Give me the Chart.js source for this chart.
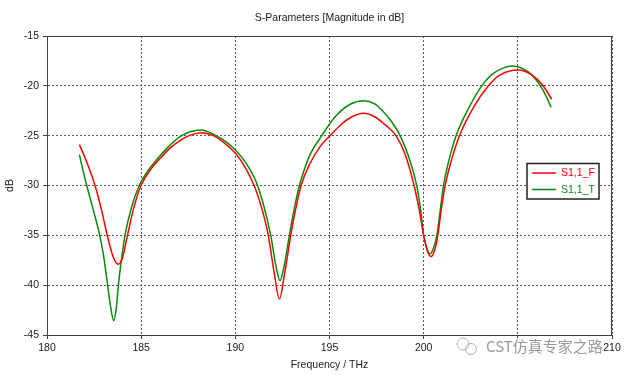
<!DOCTYPE html>
<html>
<head>
<meta charset="utf-8">
<script src="https://cdn.jsdelivr.net/npm/chart.js@4.4.0/dist/chart.umd.min.js"></script>
<style>
  html, body { margin: 0; padding: 0; background: #fff; }
  #wrap { width: 624px; height: 375px; }
</style>
</head>
<body>
<div id="wrap"><canvas id="sparChart" width="624" height="375"></canvas></div>
<script>
// S1,1 (F) - frequência em THz / magnitude em dB
const freqF = [181.72, 182.1, 182.55, 182.9, 183.2, 183.52, 183.79, 184.0, 184.25, 184.6, 184.99, 185.5, 186.0, 186.5, 187.06, 187.6, 188.2, 188.83, 189.4, 190.0, 190.4, 190.78, 191.1, 191.45, 191.75, 192.05, 192.34, 192.62, 192.94, 193.2, 193.49, 193.97, 194.5, 195.03, 195.6, 196.1, 196.8, 197.4, 197.86, 198.2, 198.53, 199.0, 199.49, 199.75, 200.0, 200.2, 200.39, 200.58, 200.75, 200.95, 201.14, 201.5, 201.9, 202.6, 203.44, 204.06, 205.03, 205.74, 206.3, 206.8];
const dbF = [-25.9, -27.6, -30, -32.5, -35, -37.2, -37.9, -37.3, -35.2, -32.3, -30, -28.4, -27.3, -26.3, -25.5, -24.95, -24.7, -25.0, -25.7, -26.77, -27.8, -29.1, -30.5, -32.6, -35, -38.6, -41.38, -38.8, -35, -32.4, -30, -27.77, -26.1, -25, -23.9, -23.2, -22.75, -23.1, -23.76, -24.3, -25, -26.8, -30, -32.3, -35, -36.6, -37.13, -36.5, -35, -32.2, -30, -27.3, -25, -22.3, -20, -18.9, -18.41, -18.9, -19.9, -21.35];

// S1,1 (T)
const freqT = [181.72, 181.9, 182.11, 182.45, 182.8, 183.0, 183.22, 183.38, 183.54, 183.68, 183.79, 183.95, 184.14, 184.5, 184.9, 185.4, 185.83, 186.4, 187.06, 187.6, 188.2, 188.92, 189.5, 190.0, 190.4, 190.78, 191.1, 191.45, 191.88, 192.15, 192.37, 192.6, 192.87, 193.1, 193.4, 193.7, 193.97, 194.59, 195.3, 196.1, 196.8, 197.4, 197.86, 198.3, 198.75, 199.2, 199.63, 199.83, 200.0, 200.17, 200.34, 200.52, 200.7, 200.88, 201.05, 201.35, 201.72, 202.4, 203.08, 203.6, 204.06, 204.73, 205.3, 205.74, 206.3, 206.77];
const dbT = [-26.9, -28.4, -30, -32.4, -35, -37.0, -40, -42.2, -43.55, -42.3, -40, -37.5, -35, -32.1, -30, -28.4, -27.4, -26.2, -25.1, -24.6, -24.43, -24.95, -25.6, -26.43, -27.3, -28.4, -29.6, -31.6, -35, -38.0, -39.54, -38.0, -35, -32.6, -30, -28.2, -26.9, -25, -23.1, -21.85, -21.49, -21.8, -22.6, -23.6, -25, -27.1, -30, -32.3, -35, -36.3, -36.87, -36.3, -35, -32.5, -30, -27.4, -25, -22.2, -20, -18.9, -18.35, -18.01, -18.3, -18.9, -20.3, -22.15];

const xTicks = [180, 185, 190, 195, 200, 205, 210];
const yTicks = [-45, -40, -35, -30, -25, -20, -15];
const seriesNames = ['S1,1_F', 'S1,1_T'];

const CORES = { f: '#ff0000', t: '#0a8a0a', eixo: '#404040', grade: '#555555', texto: '#1a1a1a' };
const FONTE = "'Liberation Sans', Arial, sans-serif";
const TAM = 10.5;

function pares(xs, ys) {
    return xs.map((x, i) => ({ x: x, y: ys[i] }));
}

// titulo, moldura, legenda e marca d'agua
const extras = {
    id: 'extras',
    afterDraw(chart) {
        const ctx = chart.ctx;
        const a = chart.chartArea;
        ctx.save();
        ctx.setLineDash([]);

        // moldura
        ctx.strokeStyle = CORES.eixo;
        ctx.lineWidth = 1;
        ctx.strokeRect(a.left + 0.5, a.top + 0.5, a.right - a.left - 1, a.bottom - a.top);

        // titulo
        ctx.fillStyle = CORES.texto;
        ctx.font = TAM + 'px ' + FONTE;
        ctx.textAlign = 'center';
        ctx.textBaseline = 'middle';
        ctx.fillText('S-Parameters [Magnitude in dB]', (a.left + a.right) / 2, 18);

        // legenda
        const lx = 527, ly = 163.5, lw = 72, lh = 35.5;
        ctx.fillStyle = '#fff';
        ctx.fillRect(lx, ly, lw, lh);
        ctx.strokeStyle = '#222';
        ctx.lineWidth = 1.5;
        ctx.strokeRect(lx, ly, lw, lh);
        const cores = [CORES.f, CORES.t];
        ctx.textAlign = 'left';
        ctx.font = TAM + 'px ' + FONTE;
        seriesNames.forEach((nome, i) => {
            const yy = ly + 9.5 + i * 16.5;
            ctx.strokeStyle = cores[i];
            ctx.lineWidth = 1.5;
            ctx.beginPath();
            ctx.moveTo(lx + 5, yy);
            ctx.lineTo(lx + 29, yy);
            ctx.stroke();
            ctx.fillStyle = cores[i];
            ctx.fillText(nome, lx + 34, yy + 0.5);
        });

        // marca d'agua
        ctx.fillStyle = '#fff';
        ctx.fillRect(505, 338, 97, 17);
        ctx.strokeStyle = '#b0b0b0';
        ctx.lineWidth = 1;
        ctx.beginPath();
        ctx.arc(463, 344, 6, 0, Math.PI * 2);
        ctx.stroke();
        ctx.beginPath();
        ctx.arc(471, 349, 5.5, 0, Math.PI * 2);
        ctx.stroke();
        ctx.fillStyle = '#9a9a9a';
        ctx.font = "15px 'Noto Sans CJK SC', sans-serif";
        ctx.textAlign = 'left';
        ctx.fillText('CST仿真专家之路', 486, 346);

        ctx.restore();
    }
};

const grade = {
    color: CORES.grade,
    lineWidth: 1,
    drawTicks: true,
    tickLength: 4,
    tickColor: CORES.eixo,
    tickBorderDash: []
};

new Chart(document.getElementById('sparChart').getContext('2d'), {
    type: 'line',
    data: {
        datasets: [
            {
                label: seriesNames[0],
                data: pares(freqF, dbF),
                borderColor: CORES.f,
                backgroundColor: CORES.f,
                borderWidth: 1.5,
                pointRadius: 0,
                cubicInterpolationMode: 'monotone'
            },
            {
                label: seriesNames[1],
                data: pares(freqT, dbT),
                borderColor: CORES.t,
                backgroundColor: CORES.t,
                borderWidth: 1.5,
                pointRadius: 0,
                cubicInterpolationMode: 'monotone'
            }
        ]
    },
    options: {
        responsive: false,
        animation: false,
        devicePixelRatio: 1,
        layout: { padding: { top: 36, right: 12, left: 0, bottom: 0 } },
        plugins: {
            legend: { display: false },
            tooltip: { enabled: false }
        },
        scales: {
            x: {
                type: 'linear',
                min: xTicks[0],
                max: xTicks[xTicks.length - 1],
                afterBuildTicks: function(scale) {
                    scale.ticks = xTicks.map(v => ({ value: v }));
                },
                afterFit: function(scale) { scale.height = 40; },
                grid: grade,
                border: { display: true, color: CORES.eixo, dash: [2, 2] },
                ticks: {
                    color: CORES.texto,
                    font: { family: FONTE, size: TAM },
                    padding: 3,
                    maxRotation: 0
                },
                title: {
                    display: true,
                    text: 'Frequency / THz',
                    color: CORES.texto,
                    font: { family: FONTE, size: TAM },
                    padding: { top: 0, bottom: 4 }
                }
            },
            y: {
                min: yTicks[0],
                max: yTicks[yTicks.length - 1],
                afterBuildTicks: function(scale) {
                    scale.ticks = yTicks.map(v => ({ value: v }));
                },
                afterFit: function(scale) { scale.width = 47; },
                grid: grade,
                border: { display: true, color: CORES.eixo, dash: [2, 2] },
                ticks: {
                    color: CORES.texto,
                    font: { family: FONTE, size: TAM },
                    padding: 4
                },
                title: {
                    display: true,
                    text: 'dB',
                    color: CORES.texto,
                    font: { family: FONTE, size: TAM },
                    padding: { top: 4, bottom: 0 }
                }
            }
        }
    },
    plugins: [extras]
});
</script>
</body>
</html>
